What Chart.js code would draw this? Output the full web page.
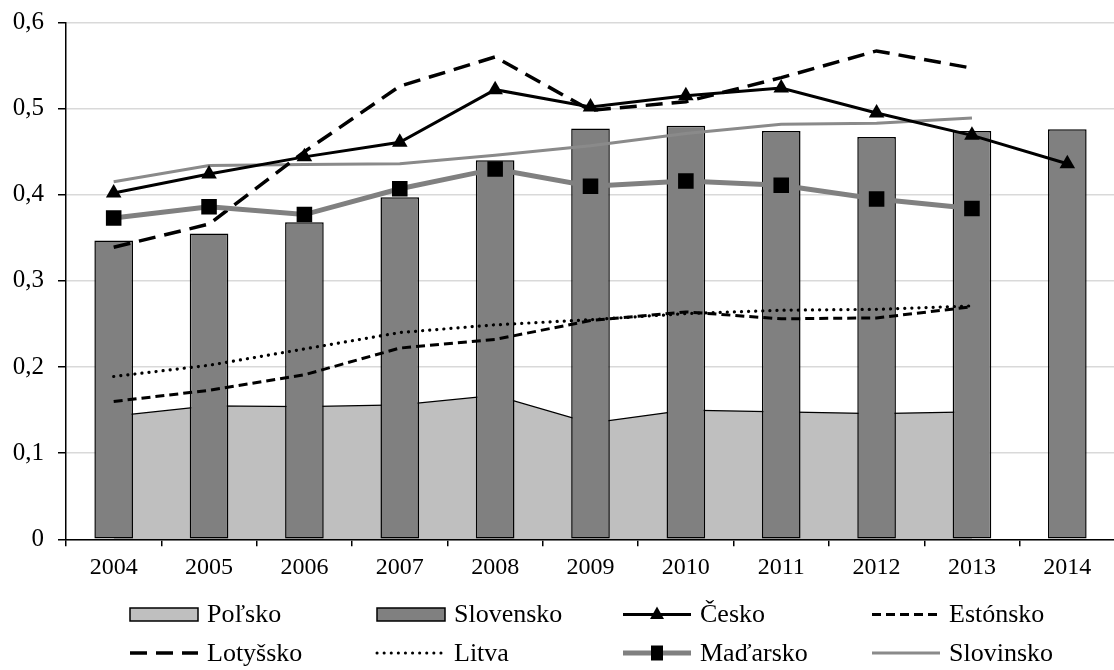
<!DOCTYPE html>
<html>
<head>
<meta charset="utf-8">
<script src="https://cdn.jsdelivr.net/npm/chart.js@4.4.1/dist/chart.umd.min.js"></script>
<style>
  html, body { margin: 0; padding: 0; background: #fff; overflow: hidden; width: 1114px; height: 670px; }
  #wrap { position: absolute; left: 0; top: 0; width: 1126px; height: 670px; }
</style>
</head>
<body>
<div id="wrap"><canvas id="c" width="1126" height="670"></canvas></div>
<script>
const categories = ['2004','2005','2006','2007','2008','2009','2010','2011','2012','2013','2014'];
const polsko    = [0.143, 0.155, 0.154, 0.156, 0.167, 0.135, 0.150, 0.148, 0.146, 0.148, null];
const slovensko = [0.347, 0.355, 0.368, 0.397, 0.440, 0.477, 0.480, 0.474, 0.467, 0.474, 0.476];
const cesko     = [0.402, 0.424, 0.444, 0.461, 0.522, 0.502, 0.515, 0.524, 0.495, 0.469, 0.436];
const estonsko  = [0.160, 0.173, 0.191, 0.222, 0.232, 0.254, 0.264, 0.256, 0.257, 0.270, null];
const lotyssko  = [0.339, 0.366, 0.450, 0.526, 0.560, 0.498, 0.508, 0.536, 0.567, 0.547, null];
const litva     = [0.189, 0.202, 0.221, 0.240, 0.249, 0.255, 0.262, 0.266, 0.267, 0.271, null];
const madarsko  = [0.373, 0.386, 0.377, 0.407, 0.430, 0.410, 0.416, 0.411, 0.395, 0.384, null];
const slovinsko = [0.415, 0.434, 0.435, 0.436, 0.446, 0.457, 0.471, 0.482, 0.483, 0.489, null];
const yTickLabels = ['0', '0,1', '0,2', '0,3', '0,4', '0,5', '0,6'];

const FONT = "'Liberation Serif', 'Times New Roman', serif";

const legendItems = [
  { label: 'Poľsko',    kind: 'box',  fill: '#bfbfbf' },
  { label: 'Slovensko', kind: 'box',  fill: '#808080' },
  { label: 'Česko',     kind: 'line', color: '#000', width: 3, dash: [], marker: 'triangle' },
  { label: 'Estónsko',  kind: 'line', color: '#000', width: 3, dash: [9, 5] },
  { label: 'Lotyšsko',  kind: 'line', color: '#000', width: 3.5, dash: [17, 9] },
  { label: 'Litva',     kind: 'line', color: '#000', width: 3, dash: [0.1, 7], cap: 'round' },
  { label: 'Maďarsko',  kind: 'line', color: '#808080', width: 5, dash: [], marker: 'square' },
  { label: 'Slovinsko', kind: 'line', color: '#8a8a8a', width: 3, dash: [] }
];

const customLegend = {
  id: 'customLegend',
  afterDraw(chart) {
    const ctx = chart.ctx;
    const colX = [130, 377, 623, 872];
    const rowY = [614.5, 653];
    ctx.save();
    legendItems.forEach((it, i) => {
      const x = colX[i % 4];
      const y = rowY[Math.floor(i / 4)];
      const w = 68;
      if (it.kind === 'box') {
        ctx.fillStyle = it.fill;
        ctx.fillRect(x, y - 6.5, w, 13);
        ctx.strokeStyle = '#000';
        ctx.lineWidth = 1.5;
        ctx.strokeRect(x, y - 6.5, w, 13);
      } else {
        ctx.beginPath();
        ctx.setLineDash(it.dash);
        ctx.lineCap = it.cap || 'butt';
        ctx.strokeStyle = it.color;
        ctx.lineWidth = it.width;
        ctx.moveTo(x, y);
        ctx.lineTo(x + w, y);
        ctx.stroke();
        ctx.setLineDash([]);
        ctx.lineCap = 'butt';
        const cx = x + w / 2;
        if (it.marker === 'triangle') {
          ctx.fillStyle = '#000';
          ctx.beginPath();
          ctx.moveTo(cx, y - 8);
          ctx.lineTo(cx + 7, y + 4.5);
          ctx.lineTo(cx - 7, y + 4.5);
          ctx.closePath();
          ctx.fill();
        } else if (it.marker === 'square') {
          ctx.fillStyle = '#000';
          ctx.fillRect(cx - 6, y - 7.5, 12, 15);
        }
      }
      ctx.fillStyle = '#000';
      ctx.font = '26px ' + FONT;
      ctx.textBaseline = 'middle';
      ctx.textAlign = 'left';
      ctx.fillText(it.label, x + w + 9, y + 1);
    });
    ctx.restore();
  }
};

const lineBase = { type: 'line', tension: 0, fill: false, pointRadius: 0, pointHoverRadius: 0 };

new Chart(document.getElementById('c'), {
  data: {
    labels: categories,
    datasets: [
      Object.assign({}, lineBase, {
        label: 'Česko', data: cesko, borderColor: '#000', borderWidth: 3,
        pointStyle: 'triangle', pointRadius: 9, pointBackgroundColor: '#000', pointBorderColor: '#000', pointBorderWidth: 0, order: 0
      }),
      Object.assign({}, lineBase, {
        label: 'Maďarsko', data: madarsko, borderColor: '#808080', borderWidth: 5,
        pointStyle: 'rect', pointRadius: 11, pointBackgroundColor: '#000', pointBorderColor: '#000', pointBorderWidth: 0, order: 1
      }),
      Object.assign({}, lineBase, {
        label: 'Lotyšsko', data: lotyssko, borderColor: '#000', borderWidth: 3.5, borderDash: [17, 9], order: 2
      }),
      Object.assign({}, lineBase, {
        label: 'Estónsko', data: estonsko, borderColor: '#000', borderWidth: 3, borderDash: [9, 5], order: 3
      }),
      Object.assign({}, lineBase, {
        label: 'Litva', data: litva, borderColor: '#000', borderWidth: 3.2, borderDash: [0.1, 7], borderCapStyle: 'round', order: 4
      }),
      Object.assign({}, lineBase, {
        label: 'Slovinsko', data: slovinsko, borderColor: '#8a8a8a', borderWidth: 3, order: 5
      }),
      {
        type: 'bar', label: 'Slovensko', data: slovensko, backgroundColor: '#808080',
        borderColor: '#000', borderWidth: 1.5, borderSkipped: false,
        barPercentage: 0.405, categoryPercentage: 1, order: 6
      },
      Object.assign({}, lineBase, {
        label: 'Poľsko', data: polsko, borderColor: '#000', borderWidth: 1.2,
        backgroundColor: '#bfbfbf', fill: 'origin', order: 7
      })
    ]
  },
  options: {
    responsive: false,
    animation: false,
    devicePixelRatio: 1,
    layout: { padding: { top: 22.5, right: 1, bottom: 0, left: 0 } },
    plugins: { legend: { display: false }, tooltip: { enabled: false } },
    scales: {
      x: {
        type: 'category',
        offset: true,
        grid: { display: true, drawOnChartArea: false, drawTicks: true, tickLength: 7, offset: true, color: '#000', tickColor: '#000', lineWidth: 1.5 },
        border: { display: true, color: '#000', width: 1.5 },
        ticks: { color: '#000', font: { family: FONT, size: 24 }, padding: 7, maxRotation: 0, autoSkip: false },
        afterFit(scale) { scale.height = 670 - 539.3; scale.paddingLeft = 0; scale.paddingRight = 0; }
      },
      y: {
        min: 0, max: 0.6,
        grid: { color: '#d9d9d9', lineWidth: 1.5, tickColor: '#000', tickLength: 8, drawTicks: true },
        border: { display: true, color: '#000', width: 1.5 },
        ticks: {
          stepSize: 0.1, color: '#000', font: { family: FONT, size: 25 }, padding: 14,
          callback(v) { return yTickLabels[Math.round(v * 10)]; }
        },
        afterFit(scale) { scale.width = 66; scale.paddingTop = 0; scale.paddingBottom = 0; }
      }
    }
  },
  plugins: [customLegend]
});
</script>
</body>
</html>
